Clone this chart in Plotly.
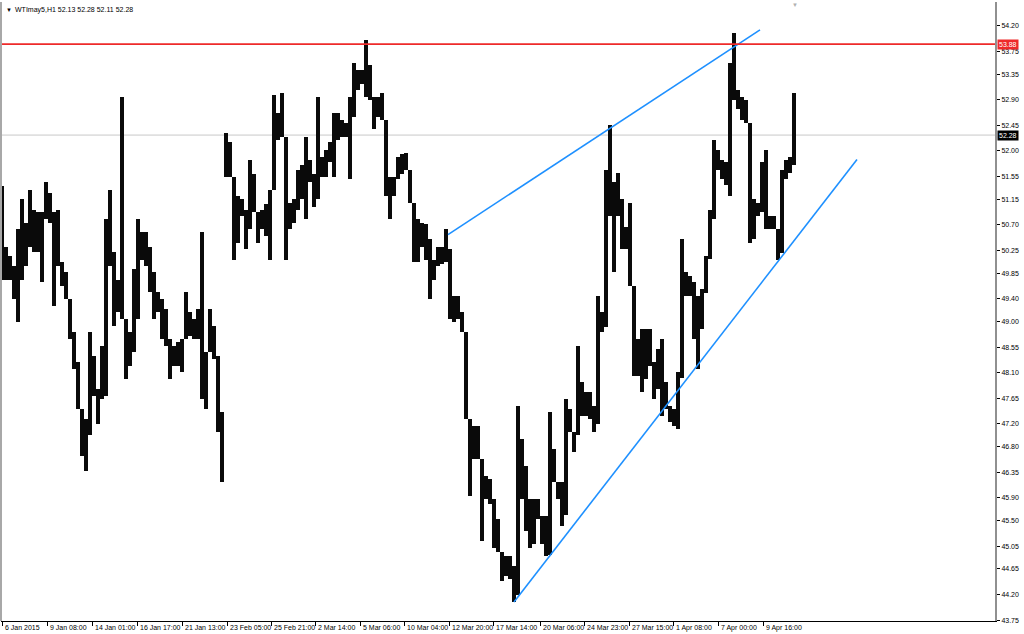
import plotly.graph_objects as go

# ---- data (approx. high/low envelope of hourly bars, grouped into bins) ----
bar_high = [
    51.38, 50.32, 50.15, 49.97, 50.62, 51.15, 50.74, 51.32, 50.97, 50.92,
    50.92, 51.45, 51.27, 50.92, 50.97, 50.04, 49.87, 49.39, 48.81, 48.29,
    47.46, 47.29, 48.81, 48.39, 47.81, 48.57, 50.80, 51.32, 50.22, 49.74,
    52.95, 49.04, 48.81, 49.92, 50.80, 50.57, 50.57, 50.32, 49.87, 49.52,
    49.39, 49.22, 48.69, 48.57, 48.64, 48.69, 49.52, 49.17, 49.04, 49.22,
    50.57, 48.46, 49.22, 48.92, 48.39, 47.41,
    52.32, 52.15, 51.55, 51.20, 51.15, 50.97, 51.85, 51.59, 50.92, 50.97,
    51.06, 51.32, 52.99, 52.67, 53.02, 52.25, 51.09, 51.15, 51.67, 51.76,
    52.25, 51.85, 51.59, 52.95, 51.90, 52.02, 52.15, 52.67, 52.67, 52.55,
    52.50, 52.95, 53.55, 53.43, 53.43, 53.95, 53.52, 52.95, 52.95, 53.02,
    52.55, 51.55, 51.55, 51.90, 51.94, 51.97, 51.67, 51.09, 50.80, 50.74,
    50.71, 50.45, 50.09, 50.32, 50.32, 50.62,
    50.27, 49.45, 49.45, 49.17, 48.81, 47.29, 47.17, 47.17, 46.59, 46.29,
    46.24, 45.88, 45.53, 44.95, 44.88, 44.88, 44.71, 47.52, 46.94, 46.46,
    45.88, 45.88, 45.88, 45.59, 45.59, 47.41,
    46.76, 46.18, 46.18, 47.64, 47.46, 47.06, 48.57, 47.94, 47.76, 47.76,
    47.52, 49.45, 49.17, 51.67, 52.45, 51.45, 51.62, 51.15, 50.67, 51.09,
    49.62, 48.69, 48.87, 48.87, 48.87, 48.29, 48.52, 48.69, 47.94, 47.52,
    47.46, 48.11, 50.45, 49.87, 49.80, 49.69, 49.45, 49.57, 50.15, 50.97,
    52.20, 52.02, 51.85, 51.80, 53.55, 54.08, 53.08, 52.95, 52.90, 52.50,
    51.15, 51.09, 51.80, 52.02, 50.85, 50.85, 50.62, 51.67, 51.85, 51.90,
    53.02,
]
bar_low = [
    49.74, 49.74, 49.74, 49.39, 48.99, 49.74, 49.97, 50.32, 50.22, 50.22,
    49.69, 50.80, 50.74, 49.27, 49.97, 49.62, 49.39, 48.69, 48.16, 47.46,
    46.64, 46.37, 47.00, 47.69, 47.20, 47.64, 47.69, 49.97, 48.92, 49.17,
    49.04, 47.99, 48.22, 48.46, 49.04, 50.09, 49.97, 49.52, 49.04, 49.17,
    48.69, 48.57, 47.99, 48.22, 48.22, 48.11, 48.69, 48.74, 48.69, 48.69,
    47.64, 47.46, 48.46, 48.34, 47.06, 46.18,
    51.55, 51.55, 50.09, 50.39, 50.85, 50.27, 50.62, 50.92, 50.39, 50.62,
    50.50, 50.09, 51.32, 52.20, 52.25, 50.09, 50.62, 50.74, 50.97, 51.15,
    50.80, 51.45, 51.02, 51.15, 51.55, 51.55, 51.80, 51.55, 52.20, 52.25,
    52.25, 51.50, 52.60, 53.08, 53.17, 52.95, 52.90, 52.38, 52.60, 52.55,
    51.20, 50.80, 51.20, 51.50, 51.59, 51.67, 51.09, 50.04, 50.04, 50.32,
    50.09, 49.39, 49.74, 49.97, 50.01, 50.04,
    49.04, 48.99, 49.04, 48.81, 47.29, 45.94, 46.59, 46.59, 45.15, 45.88,
    45.80, 45.01, 44.95, 44.43, 44.53, 44.48, 44.07, 44.20, 45.88, 45.31,
    45.01, 45.09, 45.53, 45.09, 44.88, 44.90,
    46.18, 45.88, 45.41, 45.60, 47.06, 46.71, 47.00, 47.34, 47.34, 47.29,
    47.06, 47.20, 48.81, 48.90, 50.85, 49.87, 50.85, 50.27, 50.27, 49.62,
    48.04, 48.04, 47.76, 47.99, 48.22, 47.64, 47.81, 47.34, 47.46, 47.23,
    47.17, 47.11, 48.00, 49.45, 49.45, 48.69, 48.16, 48.87, 49.50, 50.10,
    50.80, 51.67, 51.50, 51.41, 51.20, 52.90, 52.73, 52.55, 52.50, 50.39,
    50.45, 50.85, 50.92, 50.62, 50.62, 50.62, 50.09, 50.20, 51.50, 51.62,
    51.75,
]
bar_index = list(range(len(bar_high)))

# x-axis labels (bin positions of the date ticks)
date_tick_pos = [0, 11.25, 22.5, 33.75, 45, 56.25, 67.25, 78.25, 89.5, 100.5,
                 111.75, 122.75, 134.5, 145.5, 156.75, 167.75, 179, 190.25]
date_tick_text = ["6 Jan 2015", "9 Jan 08:00", "14 Jan 01:00", "16 Jan 17:00",
                  "21 Jan 13:00", "23 Feb 05:00", "25 Feb 21:00", "2 Mar 14:00",
                  "5 Mar 06:00", "10 Mar 04:00", "12 Mar 20:00", "17 Mar 14:00",
                  "20 Mar 06:00", "24 Mar 23:00", "27 Mar 15:00", "1 Apr 08:00",
                  "7 Apr 00:00", "9 Apr 16:00"]

price_ticks = [54.20, 53.75, 53.35, 52.90, 52.45, 52.00, 51.55, 51.15, 50.70,
               50.25, 49.85, 49.40, 49.00, 48.55, 48.10, 47.65, 47.20, 46.80,
               46.35, 45.90, 45.50, 45.05, 44.65, 44.20, 43.75]

resistance_level = 53.88
last_price = 52.28
upper_trend = {"x": [111.5, 189.5], "y": [50.53, 54.13]}
lower_trend = {"x": [128, 213.75], "y": [44.07, 51.85]}

title_text = "WTImay5,H1 52.13 52.28 52.11 52.28"

FONT = "Liberation Sans, Arial, sans-serif"
FS = 7

fig = go.Figure()

fig.add_trace(go.Bar(
    x=bar_index,
    y=[h - l for h, l in zip(bar_high, bar_low)],
    base=bar_low,
    width=0.85,
    marker=dict(color="#0a0a0a", line=dict(width=0)),
    showlegend=False,
    hoverinfo="skip",
))

# trend lines
for tl in (upper_trend, lower_trend):
    fig.add_trace(go.Scatter(
        x=tl["x"], y=tl["y"], mode="lines",
        line=dict(color="#1E90FF", width=1.6),
        showlegend=False, hoverinfo="skip",
    ))

# horizontal lines
fig.add_shape(type="line", xref="paper", x0=0, x1=1, yref="y",
              y0=last_price, y1=last_price,
              line=dict(color="#c8c8c8", width=1), layer="below")
fig.add_shape(type="line", xref="paper", x0=0, x1=1, yref="y",
              y0=resistance_level, y1=resistance_level,
              line=dict(color="#ee2a2a", width=1.6))
# left border
fig.add_shape(type="line", xref="paper", x0=0, x1=0, yref="paper",
              y0=0, y1=1, line=dict(color="#a8a8a8", width=2))

annotations = []
for pos, txt in zip(date_tick_pos, date_tick_text):
    annotations.append(dict(
        x=pos, y=0, xref="x", yref="paper", text=txt, showarrow=False,
        xanchor="left", yanchor="top", xshift=1, yshift=-1,
        font=dict(family=FONT, size=FS, color="black"),
    ))

annotations.append(dict(
    x=1, y=resistance_level, xref="paper", yref="y",
    text=f"{resistance_level:.2f}", showarrow=False,
    xanchor="left", yanchor="middle", xshift=2,
    bgcolor="#ee2a2a", borderpad=1,
    font=dict(family=FONT, size=FS, color="white"),
))
annotations.append(dict(
    x=1, y=last_price, xref="paper", yref="y",
    text=f"{last_price:.2f}", showarrow=False,
    xanchor="left", yanchor="middle", xshift=2,
    bgcolor="black", borderpad=1,
    font=dict(family=FONT, size=FS, color="white"),
))
annotations.append(dict(
    x=0, y=1, xref="paper", yref="paper",
    text="\u25BC", showarrow=False,
    xanchor="left", yanchor="top", xshift=3, yshift=-3,
    font=dict(family=FONT, size=6, color="black"),
))
annotations.append(dict(
    x=0, y=1, xref="paper", yref="paper",
    text=title_text, showarrow=False,
    xanchor="left", yanchor="top", xshift=12, yshift=-2,
    font=dict(family=FONT, size=FS, color="black"),
))
annotations.append(dict(
    x=198.25, y=1, xref="x", yref="paper",
    text="\u25BC", showarrow=False,
    xanchor="center", yanchor="top", yshift=2,
    font=dict(family=FONT, size=6, color="#b0b0b0"),
))

fig.update_layout(
    width=1024, height=634,
    margin=dict(l=1, r=29, t=2, b=13),
    paper_bgcolor="white", plot_bgcolor="white",
    bargap=0,
    annotations=annotations,
    font=dict(family=FONT, size=FS, color="black"),
    xaxis=dict(
        range=[-0.25, 248.25],
        showgrid=False, zeroline=False,
        tickmode="array", tickvals=date_tick_pos,
        showticklabels=False,
        ticks="outside", ticklen=4, tickcolor="black", tickwidth=1,
        showline=True, linecolor="black", linewidth=1,
        fixedrange=True,
    ),
    yaxis=dict(
        side="right",
        range=[43.735, 54.62],
        showgrid=False, zeroline=False,
        tickmode="array", tickvals=price_ticks,
        ticktext=[f"{v:.2f}" for v in price_ticks],
        ticks="outside", ticklen=3, tickcolor="black", tickwidth=1,
        showline=True, linecolor="#909090", linewidth=2,
        tickfont=dict(family=FONT, size=FS, color="black"),
        fixedrange=True,
    ),
)

fig.write_html("out.html", config={"displayModeBar": False},
               post_script="document.body.style.margin='0';")
